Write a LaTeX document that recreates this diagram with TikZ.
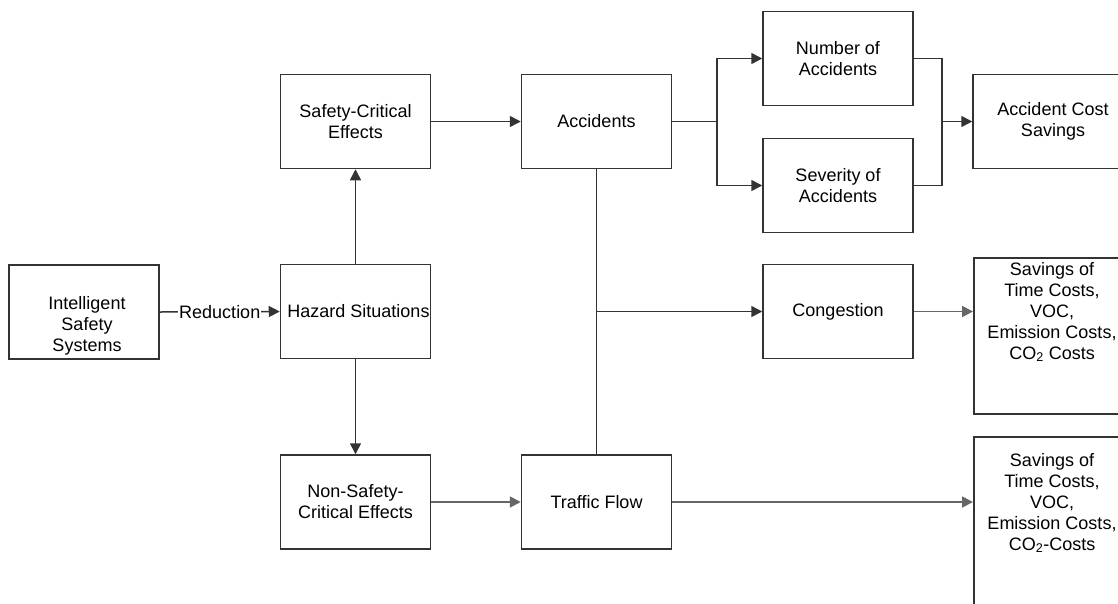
\documentclass[tikz,border=0pt]{standalone}
\usepackage{fontspec}
\setmainfont{Liberation Sans}
\usetikzlibrary{arrows.meta}
\tikzset{
	blk/.style={draw=black!80, line width=1.5pt, minimum width=150pt, minimum height=94pt, align=center, inner sep=0pt},
	wideblk/.style={blk, minimum width=160pt, anchor=north west},
	lbl/.style={align=center, inner sep=0pt},
	plain/.style={draw=black!80, line width=1.5pt},
	link/.style={plain, -{Triangle[length=11pt,width=11pt]}},
	greylink/.style={link, draw=black!60, line width=1.8pt},
}

\begin{document}
\begin{tikzpicture}[x=1pt, y=-1pt, font=\fontsize{18}{21}\selectfont]
		%%%%% START %%%%%
		\useasboundingbox (0, 0) rectangle (1118, 603);
		
		\node[blk] (iss) at (84, 312) {};
		\node[lbl] (isstxt) at (87, 326) {Intelligent\\Safety\\Systems};
		\node[blk] (haz) at (355.5, 311.5) {\hspace*{6pt}Hazard Situations};
		\node[blk] (sce) at (355.5, 121.5) {Safety-Critical\\Effects};
		\node[blk] (nsce) at (355.5, 502) {Non-Safety-\\Critical Effects};
		
		\node[blk] (acc) at (596.5, 121.5) {Accidents};
		\node[blk] (traf) at (596.5, 502) {Traffic Flow};
		
		\node[blk] (num) at (838, 58.5) {Number of\\Accidents};
		\node[blk] (sev) at (838, 185.5) {Severity of\\Accidents};
		\node[blk] (cong) at (838, 311.5) {Congestion};
		
		\node[blk, minimum width=160pt] (acs) at (1053, 121.5) {Accident Cost\\Savings};
		\node[wideblk, minimum height=156pt] (sav1) at (973, 257) {};
		\node[lbl] (sav1txt) at (1052, 312) {Savings of\\Time Costs,\\VOC,\\Emission Costs,\\CO\textsubscript{2} Costs};
		\node[wideblk, minimum height=200pt] (sav2) at (973, 436) {};
		\node[lbl] (sav2txt) at (1052, 503) {Savings of\\Time Costs,\\VOC,\\Emission Costs,\\CO\textsubscript{2}-Costs};
		
		\coordinate (fork) at (717, 121.5);
		\coordinate (join) at (942, 121.5);
		\coordinate (tap) at (596.5, 311.5);
		
		\draw[link] (iss.east) -- node[fill=white, inner sep=1pt] (red) {Reduction} (haz.west);
		\draw[link] (haz) -- (sce);
		\draw[link] (haz) -- (nsce);
		\draw[link] (sce) -- (acc);
		
		\draw[plain] (acc.east) -- (fork);
		\draw[link] (fork) |- (num.west);
		\draw[link] (fork) |- (sev.west);
		\draw[plain] (num.east) -| (join);
		\draw[plain] (sev.east) -| (join);
		\draw[link] (join) -- (acs.west);
		
		\draw[plain] (acc.south) -- (traf.north);
		\draw[link] (tap) -- (cong.west);
		
		\draw[greylink] (nsce) -- (traf);
		\draw[greylink] (cong.east) -- (cong.east -| sav1.west);
		\draw[greylink] (traf.east) -- (traf.east -| sav2.west);
		
		%%%%% END %%%%%
	\end{tikzpicture}
\end{document}
